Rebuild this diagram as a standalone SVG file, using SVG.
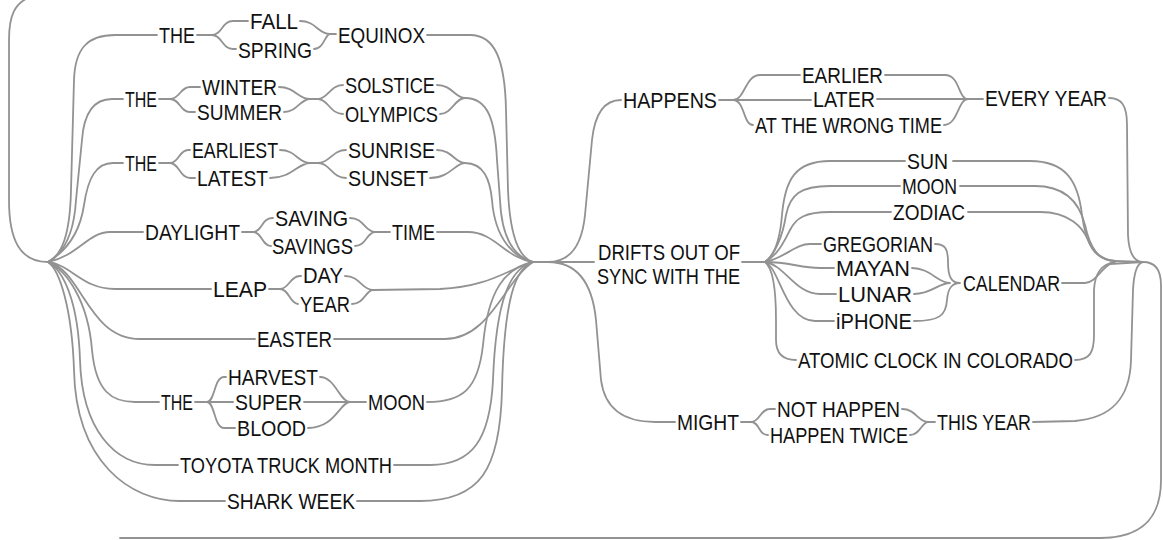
<svg xmlns="http://www.w3.org/2000/svg" width="1163" height="540" viewBox="0 0 1163 540">
<style>
.c{fill:none;stroke:#929292;stroke-width:1.8;stroke-linecap:round;stroke-linejoin:round}
.t{font-family:"Liberation Sans",Arial,sans-serif;font-size:22.5px;fill:#111111}
</style>
<rect width="1163" height="540" fill="#ffffff"/>
<g id="connectors" class="c">
<!-- outer loop -->
<path d="M48 262 C20 262 9 240 9 200 L9 40 C9 15 15 3 30 -3"/>
<path d="M1143 262 C1155 262 1161 270 1161 285 L1161 480 C1161 520 1140 538 1100 538 L120 538"/>
<!-- row 1 -->
<path d="M48 262 C62 255 70 235 71 190 L74 80 C75 48 88 35 115 35 L157 35"/>
<path d="M197 35 L212 35 C222 35 222 21 233 21 L248 21 M212 35 C222 35 222 49 233 49 L236 49"/>
<path d="M300 21 C316 21 318 34 330 34 L336 34 M314 49 C324 49 325 34 330 34"/>
<path d="M427 35 L470 35 C495 35 505 60 506 110 L508 190 C510 240 520 258 533 262"/>
<!-- row 2 -->
<path d="M48 262 C64 253 74 235 76 200 L82 140 C84 112 95 99 112 99 L123 99"/>
<path d="M159 99 L170 99 C180 99 180 87 190 87 L200 87 M170 99 C180 99 180 112 190 112 L195 112"/>
<path d="M279 87 C295 87 298 99 310 99 L318 99 C328 99 330 85 343 85 M284 112 C297 112 300 99 310 99 M318 99 C328 99 330 114 343 114"/>
<path d="M437 85 C452 85 455 98 465 98 M440 114 C452 114 455 98 465 98 M465 98 C488 98 495 120 497 160 L500 200 C502 245 518 258 533 262"/>
<!-- row 3 -->
<path d="M48 262 C68 250 80 232 84 205 C88 178 96 163 113 163 L123 163"/>
<path d="M159 163 L170 163 C179 163 179 150 188 150 L190 150 M170 163 C179 163 180 178 190 178 L195 178"/>
<path d="M280 150 C296 150 298 163 310 163 L318 163 C330 163 332 150 346 150 M270 178 C292 178 298 163 310 163 M318 163 C330 163 332 178 346 178"/>
<path d="M437 150 C452 150 455 163 465 163 M430 178 C450 178 455 163 465 163 M465 163 C484 163 490 180 492 200 C495 240 515 258 533 262"/>
<!-- daylight -->
<path d="M48 262 C78 256 88 232 110 232 L143 232"/>
<path d="M242 232 L253 232 C262 232 262 218 272 218 L273 218 M253 232 C262 232 262 246 271 246"/>
<path d="M350 218 C364 218 365 232 375 232 L390 232 M355 246 C366 246 367 232 375 232"/>
<path d="M437 232 L468 232 C495 232 505 258 533 262"/>
<!-- leap -->
<path d="M48 262 C72 265 82 289 115 289 L211 289"/>
<path d="M269 289 L280 289 C289 289 290 276 300 276 L301 276 M280 289 C289 289 290 304 298 304"/>
<path d="M345 276 C360 276 362 290 373 290 M352 304 C364 304 366 290 373 290 L440 289 C490 287 510 268 533 262"/>
<!-- easter -->
<path d="M48 262 C82 270 88 339 140 339 L255 339"/>
<path d="M334 339 L445 339 C490 339 505 280 533 262"/>
<!-- moon group -->
<path d="M48 262 C66 270 88 300 92 350 C96 392 112 402 135 402 L159 402"/>
<path d="M195 402 L207 402 C215 402 214 377 224 377 L226 377 M207 402 L233 402 M207 402 C215 402 214 428 224 428 L235 428"/>
<path d="M320 377 C335 377 340 402 350 402 M304 402 L366 402 M308 428 C335 428 340 402 350 402"/>
<path d="M427 402 C462 402 478 390 483 345 C488 290 505 268 533 262"/>
<!-- toyota -->
<path d="M48 262 C63 270 78 300 80 360 C82 430 115 465 155 465 L178 465"/>
<path d="M394 465 L430 465 C472 465 490 440 493 380 C496 300 510 268 533 262"/>
<!-- shark -->
<path d="M48 262 C60 270 72 310 74 370 C76 462 130 501 180 501 L225 501"/>
<path d="M357 501 L420 501 C480 501 500 470 502 390 C504 300 515 268 533 262"/>
<!-- right side -->
<path d="M533 262 L548 262 C570 262 582 245 585 215 L592 140 C595 112 605 100 621 100"/>
<path d="M533 262 L594 262"/>
<path d="M533 262 L548 262 C575 262 592 280 596 320 L601 380 C605 410 625 422 655 422 L675 422"/>
<!-- happens -->
<path d="M719 100 L733 100 C745 100 745 75 760 75 L800 75 M733 100 L811 100 M733 100 C745 100 743 125 753 125"/>
<path d="M885 75 L945 75 C960 75 958 99 968 99 M877 99 L983 99 M944 125 C958 125 958 99 968 99"/>
<path d="M1109 98 C1122 98 1127 106 1127 125 L1128 235 C1129 255 1135 262 1143 262"/>
<!-- drifts -->
<path d="M742 262 L765 262"/>
<path d="M765 262 C775 255 780 240 782 215 C785 180 795 161 830 161 L905 161"/>
<path d="M765 262 C775 255 783 235 786 215 C790 195 800 186 830 186 L900 186"/>
<path d="M765 262 C778 255 785 240 790 230 C796 218 805 212 830 212 L891 212"/>
<path d="M765 262 C785 258 795 244 810 244 L821 244"/>
<path d="M765 262 C790 262 800 268 820 268 L834 268"/>
<path d="M765 262 C785 265 795 294 820 294 L836 294"/>
<path d="M765 262 C780 268 785 321 815 321 L834 321"/>
<path d="M765 262 C773 268 776 290 776 320 L776 340 C776 355 784 360 796 360"/>
<path d="M953 161 L1030 161 C1065 161 1078 180 1082 215 C1086 245 1095 260 1115 261 L1143 262"/>
<path d="M960 186 L1035 186 C1068 186 1080 205 1085 225 C1090 248 1098 260 1115 261"/>
<path d="M968 212 L1040 212 C1070 212 1083 228 1088 240 C1093 252 1100 260 1115 261"/>
<path d="M935 244 C946 244 948 250 948 262 C948 278 952 283 960 283 M912 268 C930 268 938 283 950 283 M914 294 C932 294 938 283 950 283 M914 321 C940 321 946 315 947 300 C948 288 952 283 960 283"/>
<path d="M1062 283 L1085 283 C1095 283 1100 270 1110 264 L1143 262"/>
<path d="M1075 360 C1090 360 1094 352 1094 335 L1094 290 C1095 272 1102 264 1115 262"/>
<!-- might -->
<path d="M741 422 L751 422 C760 422 760 409 770 409 L775 409 M751 422 C760 422 758 435 768 435"/>
<path d="M902 409 C916 409 918 422 928 422 L935 422 M910 435 C920 435 922 422 928 422"/>
<path d="M1033 422 L1075 421 C1110 418 1130 400 1131 360 L1133 290 C1134 270 1138 263 1143 262"/>
</g>
<g id="n-the1"><text class="t" x="159" y="43" textLength="36" lengthAdjust="spacingAndGlyphs">THE</text></g>
<g id="n-fall"><text class="t" x="250" y="29" textLength="48" lengthAdjust="spacingAndGlyphs">FALL</text></g>
<g id="n-spring"><text class="t" x="238" y="57.5" textLength="74" lengthAdjust="spacingAndGlyphs">SPRING</text></g>
<g id="n-equinox"><text class="t" x="338" y="43" textLength="87" lengthAdjust="spacingAndGlyphs">EQUINOX</text></g>
<g id="n-the2"><text class="t" x="125" y="107" textLength="32" lengthAdjust="spacingAndGlyphs">THE</text></g>
<g id="n-winter"><text class="t" x="202" y="95" textLength="75" lengthAdjust="spacingAndGlyphs">WINTER</text></g>
<g id="n-summer"><text class="t" x="197" y="120" textLength="85" lengthAdjust="spacingAndGlyphs">SUMMER</text></g>
<g id="n-solstice"><text class="t" x="345" y="93" textLength="90" lengthAdjust="spacingAndGlyphs">SOLSTICE</text></g>
<g id="n-olympics"><text class="t" x="345" y="122" textLength="93" lengthAdjust="spacingAndGlyphs">OLYMPICS</text></g>
<g id="n-the3"><text class="t" x="125" y="171" textLength="32" lengthAdjust="spacingAndGlyphs">THE</text></g>
<g id="n-earliest"><text class="t" x="192" y="158" textLength="86" lengthAdjust="spacingAndGlyphs">EARLIEST</text></g>
<g id="n-latest"><text class="t" x="197" y="186" textLength="71" lengthAdjust="spacingAndGlyphs">LATEST</text></g>
<g id="n-sunrise"><text class="t" x="348" y="158" textLength="87" lengthAdjust="spacingAndGlyphs">SUNRISE</text></g>
<g id="n-sunset"><text class="t" x="348" y="186" textLength="80" lengthAdjust="spacingAndGlyphs">SUNSET</text></g>
<g id="n-daylight"><text class="t" x="145" y="240" textLength="95" lengthAdjust="spacingAndGlyphs">DAYLIGHT</text></g>
<g id="n-saving"><text class="t" x="275" y="226" textLength="73" lengthAdjust="spacingAndGlyphs">SAVING</text></g>
<g id="n-savings"><text class="t" x="272" y="254" textLength="81" lengthAdjust="spacingAndGlyphs">SAVINGS</text></g>
<g id="n-time"><text class="t" x="392" y="240" textLength="43" lengthAdjust="spacingAndGlyphs">TIME</text></g>
<g id="n-leap"><text class="t" x="213" y="297" textLength="54" lengthAdjust="spacingAndGlyphs">LEAP</text></g>
<g id="n-day"><text class="t" x="303" y="283" textLength="40" lengthAdjust="spacingAndGlyphs">DAY</text></g>
<g id="n-year"><text class="t" x="300" y="312" textLength="50" lengthAdjust="spacingAndGlyphs">YEAR</text></g>
<g id="n-easter"><text class="t" x="257" y="347" textLength="75" lengthAdjust="spacingAndGlyphs">EASTER</text></g>
<g id="n-the4"><text class="t" x="161" y="410" textLength="32" lengthAdjust="spacingAndGlyphs">THE</text></g>
<g id="n-harvest"><text class="t" x="228" y="385" textLength="90" lengthAdjust="spacingAndGlyphs">HARVEST</text></g>
<g id="n-super"><text class="t" x="235" y="410" textLength="67" lengthAdjust="spacingAndGlyphs">SUPER</text></g>
<g id="n-blood"><text class="t" x="237" y="436" textLength="69" lengthAdjust="spacingAndGlyphs">BLOOD</text></g>
<g id="n-moon1"><text class="t" x="368" y="410" textLength="57" lengthAdjust="spacingAndGlyphs">MOON</text></g>
<g id="n-toyota"><text class="t" x="180" y="473" textLength="212" lengthAdjust="spacingAndGlyphs">TOYOTA TRUCK MONTH</text></g>
<g id="n-shark"><text class="t" x="227" y="509" textLength="128" lengthAdjust="spacingAndGlyphs">SHARK WEEK</text></g>
<g id="n-happens"><text class="t" x="623" y="108" textLength="94" lengthAdjust="spacingAndGlyphs">HAPPENS</text></g>
<g id="n-earlier"><text class="t" x="802" y="83" textLength="81" lengthAdjust="spacingAndGlyphs">EARLIER</text></g>
<g id="n-later"><text class="t" x="813" y="107" textLength="62" lengthAdjust="spacingAndGlyphs">LATER</text></g>
<g id="n-wrong"><text class="t" x="755" y="133" textLength="187" lengthAdjust="spacingAndGlyphs">AT THE WRONG TIME</text></g>
<g id="n-everyyear"><text class="t" x="985" y="106" textLength="122" lengthAdjust="spacingAndGlyphs">EVERY YEAR</text></g>
<g id="n-sun"><text class="t" x="907" y="169" textLength="41" lengthAdjust="spacingAndGlyphs">SUN</text></g>
<g id="n-moon2"><text class="t" x="902" y="194" textLength="55" lengthAdjust="spacingAndGlyphs">MOON</text></g>
<g id="n-zodiac"><text class="t" x="893" y="220" textLength="72" lengthAdjust="spacingAndGlyphs">ZODIAC</text></g>
<g id="n-drifts"><text class="t" x="598" y="260" textLength="142" lengthAdjust="spacingAndGlyphs">DRIFTS OUT OF</text><text class="t" x="597" y="284" textLength="143" lengthAdjust="spacingAndGlyphs">SYNC WITH THE</text></g>
<g id="n-gregorian"><text class="t" x="823" y="252" textLength="110" lengthAdjust="spacingAndGlyphs">GREGORIAN</text></g>
<g id="n-mayan"><text class="t" x="836" y="276" textLength="74" lengthAdjust="spacingAndGlyphs">MAYAN</text></g>
<g id="n-lunar"><text class="t" x="838" y="302" textLength="74" lengthAdjust="spacingAndGlyphs">LUNAR</text></g>
<g id="n-iphone"><text class="t" x="836" y="329" textLength="76" lengthAdjust="spacingAndGlyphs">iPHONE</text></g>
<g id="n-calendar"><text class="t" x="963" y="291" textLength="97" lengthAdjust="spacingAndGlyphs">CALENDAR</text></g>
<g id="n-atomic"><text class="t" x="798" y="368" textLength="275" lengthAdjust="spacingAndGlyphs">ATOMIC CLOCK IN COLORADO</text></g>
<g id="n-might"><text class="t" x="677" y="430" textLength="62" lengthAdjust="spacingAndGlyphs">MIGHT</text></g>
<g id="n-nothappen"><text class="t" x="777" y="417" textLength="123" lengthAdjust="spacingAndGlyphs">NOT HAPPEN</text></g>
<g id="n-twice"><text class="t" x="770" y="443" textLength="138" lengthAdjust="spacingAndGlyphs">HAPPEN TWICE</text></g>
<g id="n-thisyear"><text class="t" x="937" y="430" textLength="94" lengthAdjust="spacingAndGlyphs">THIS YEAR</text></g>
</svg>
